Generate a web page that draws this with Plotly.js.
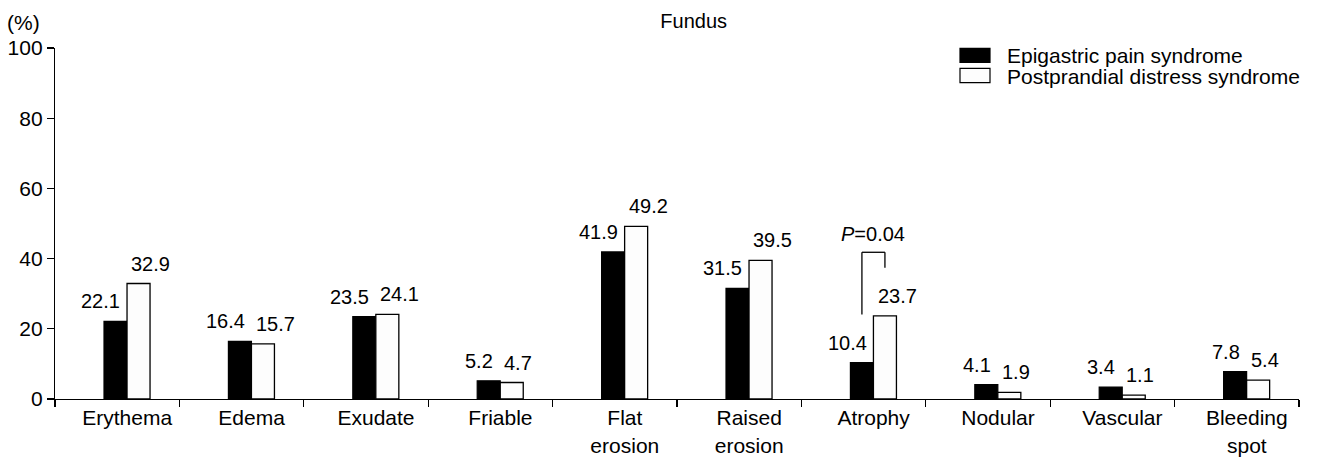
<!DOCTYPE html>
<html><head><meta charset="utf-8">
<script src="https://cdn.plot.ly/plotly-3.0.1.min.js"></script>
<style>html,body{margin:0;padding:0;background:#fff}</style>
</head><body><div id="chart" style="width:1318px;height:457px"></div>
<script>
// ---- data ----
const categories = ['Erythema','Edema','Exudate','Friable','Flat<br>erosion','Raised<br>erosion','Atrophy','Nodular','Vascular','Bleeding<br>spot'];
const epsValues = [22.1,16.4,23.5,5.2,41.9,31.5,10.4,4.1,3.4,7.8];
const pdsValues = [32.9,15.7,24.1,4.7,49.2,39.5,23.7,1.9,1.1,5.4];
const seriesNames = ['Epigastric pain syndrome','Postprandial distress syndrome'];
const yTickValues = [0,20,40,60,80,100];
const chartTitle = 'Fundus';
const yUnit = '(%)';
const pValueText = '<i>P</i>=0.04';
const pValueCategory = 'Atrophy';

// ---- layout constants ----
const FONT = 'Liberation Sans, Arial, Helvetica, sans-serif';
const M = {l:55, r:19, t:48, b:58};
const W = 1318, H = 457;
const PW = W - M.l - M.r, PH = H - M.t - M.b;
const px2x = p => (p - M.l) / PW;
const py2y = p => (H - M.b - p) / PH;
const barW = 0.185, off1 = -0.106, off2 = 0.079;

const traces = [
  {type:'bar', name:seriesNames[0], x:categories, y:epsValues, width:barW, offset:off1,
   marker:{color:'#000', line:{color:'#000', width:1.2}}, showlegend:false, hoverinfo:'skip'},
  {type:'bar', name:seriesNames[1], x:categories, y:pdsValues, width:barW, offset:off2,
   marker:{color:'#fdfdfd', line:{color:'#000', width:1.3}}, showlegend:false, hoverinfo:'skip'}
];

const annotations = [];
categories.forEach((c, i) => {
  annotations.push({x:i, y:epsValues[i], xref:'x', yref:'y', text:epsValues[i].toFixed(1),
    xanchor:'right', yanchor:'bottom', xshift:5, yshift:7, showarrow:false, font:{size:20, color:'#000', family:FONT}});
  annotations.push({x:i, y:pdsValues[i], xref:'x', yref:'y', text:pdsValues[i].toFixed(1),
    xanchor:'left', yanchor:'bottom', xshift:12, yshift:7, showarrow:false, font:{size:20, color:'#000', family:FONT}});
});

// significance bracket
const pi = categories.indexOf(pValueCategory);
const bC = pi + off1 + barW/2, wC = pi + off2 + barW/2;
const brTop = 41.8, brLeftEnd = 24.1, brRightEnd = 37.4;
const shapes = [
  {type:'line', xref:'x', yref:'y', x0:bC, x1:bC, y0:brLeftEnd, y1:brTop, line:{color:'#000', width:1.3}},
  {type:'line', xref:'x', yref:'y', x0:bC, x1:wC, y0:brTop, y1:brTop, line:{color:'#000', width:1.3}},
  {type:'line', xref:'x', yref:'y', x0:wC, x1:wC, y0:brTop, y1:brRightEnd, line:{color:'#000', width:1.3}}
];
annotations.push({x:(bC+wC)/2, y:brTop, xref:'x', yref:'y', text:pValueText, xanchor:'center', yanchor:'bottom',
  yshift:5, showarrow:false, font:{size:20, color:'#000', family:FONT}});

// custom legend
shapes.push({type:'rect', xref:'paper', yref:'paper', x0:px2x(960), x1:px2x(990), y0:py2y(62.3), y1:py2y(48.3),
  fillcolor:'#000', line:{color:'#000', width:1.2}});
shapes.push({type:'rect', xref:'paper', yref:'paper', x0:px2x(960), x1:px2x(990), y0:py2y(82.7), y1:py2y(68.3),
  fillcolor:'#fdfdfd', line:{color:'#000', width:1.2}});
annotations.push({xref:'paper', yref:'paper', x:px2x(1005), y:py2y(55.5), text:seriesNames[0], xanchor:'left', yanchor:'middle',
  showarrow:false, font:{size:21, color:'#000', family:FONT}});
annotations.push({xref:'paper', yref:'paper', x:px2x(1005), y:py2y(76), text:seriesNames[1], xanchor:'left', yanchor:'middle',
  showarrow:false, font:{size:21, color:'#000', family:FONT}});

// y unit
annotations.push({xref:'paper', yref:'paper', x:px2x(23.5), y:py2y(23), text:yUnit, xanchor:'center', yanchor:'middle',
  showarrow:false, font:{size:21, color:'#000', family:FONT}});

const layout = {
  width:W, height:H, margin:M, paper_bgcolor:'#fff', plot_bgcolor:'#fff',
  font:{family:FONT, color:'#000', size:21},
  title:{text:chartTitle, x:676.7/W, xanchor:'center', xref:'paper', y:1-21/H, yref:'container', yanchor:'middle',
    font:{size:20, color:'#000', family:FONT}},
  barmode:'overlay',
  xaxis:{type:'category', range:[-0.5, 9.5], tickson:'boundaries', ticks:'outside', ticklen:7, tickwidth:1.2, tickcolor:'#000',
    showline:true, linecolor:'#000', linewidth:1.2, showgrid:false, zeroline:false, ticklabelshift:10,
    tickfont:{size:21, color:'#000', family:FONT}, fixedrange:true},
  yaxis:{range:[0,100], tickvals:yTickValues, ticktext:yTickValues.map(String), ticks:'outside', ticklen:7, tickwidth:1.2, tickcolor:'#000',
    showline:true, linecolor:'#000', linewidth:1.2, showgrid:false, zeroline:false,
    tickfont:{size:21, color:'#000', family:FONT}, fixedrange:true},
  shapes:shapes, annotations:annotations, showlegend:false
};
Plotly.newPlot('chart', traces, layout, {staticPlot:true, displayModeBar:false});
</script></body></html>
